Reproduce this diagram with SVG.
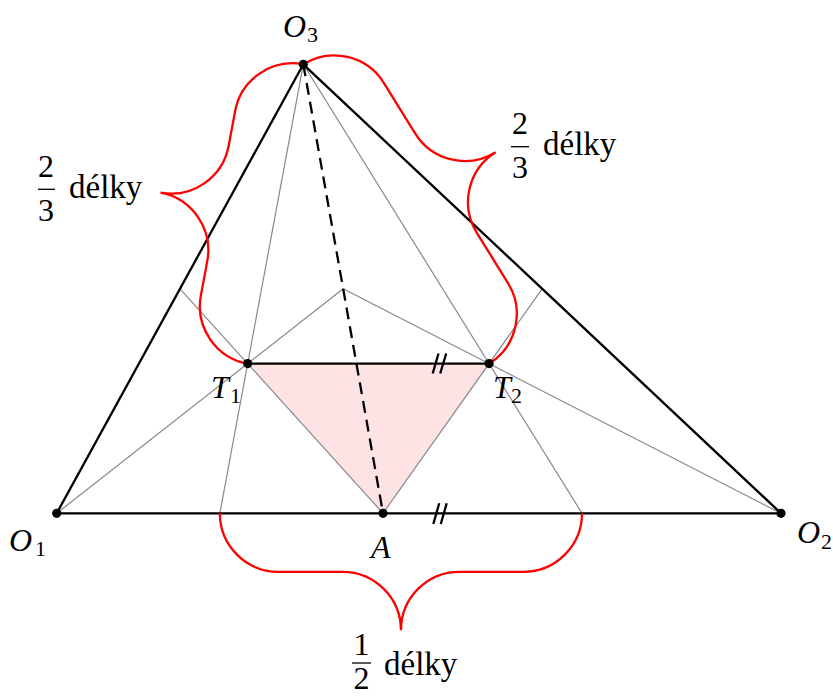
<svg xmlns="http://www.w3.org/2000/svg" width="833" height="697" viewBox="0 0 833 697">
<style>
.gray{stroke:#888;stroke-width:1.2;fill:none}
.blk{stroke:#000;stroke-width:2.3;fill:none}
.dash{stroke:#000;stroke-width:2.3;fill:none;stroke-dasharray:12 7}
.brace{stroke:#f00;stroke-width:2.3;fill:none}
.dot{fill:#000}
.lbl{font-family:"Liberation Serif","DejaVu Serif",serif;font-style:italic;font-size:32px;fill:#000}
.sub{font-family:"Liberation Serif","DejaVu Serif",serif;font-size:22px;fill:#000}
.num{font-family:"Liberation Serif","DejaVu Serif",serif;font-size:32px;fill:#000;text-anchor:middle}
.word{font-family:"Liberation Serif","DejaVu Serif",serif;font-size:33px;fill:#000}
</style>
<rect width="833" height="697" fill="#fff"/>
<polygon points="247.7,363.6 383,513.3 489.1,363.6" fill="#fde3e3"/>
<g id="connectors">
<g id="medians">
<line class="gray" x1="56.7" y1="513.3" x2="343.15" y2="288.8"/>
<line class="gray" x1="383" y1="513.3" x2="180" y2="288.8"/>
<line class="gray" x1="303.3" y1="64.3" x2="219.85" y2="513.3"/>
<line class="gray" x1="781" y1="513.3" x2="343.15" y2="288.8"/>
<line class="gray" x1="383" y1="513.3" x2="542.15" y2="288.8"/>
<line class="gray" x1="303.3" y1="64.3" x2="582" y2="513.3"/>
</g>
<line class="blk" x1="56.7" y1="513.3" x2="781" y2="513.3"/>
<line class="blk" x1="56.7" y1="513.3" x2="303.3" y2="64.3"/>
<line class="blk" x1="781" y1="513.3" x2="303.3" y2="64.3"/>
<line class="blk" x1="247.7" y1="363.6" x2="489.1" y2="363.6"/>
<line class="dash" x1="303.3" y1="64.3" x2="383" y2="513.3"/>
<g id="ticks">
<line class="blk" x1="432.7" y1="373.5" x2="438.5" y2="353.5"/>
<line class="blk" x1="440.2" y1="373.5" x2="446.2" y2="353.5"/>
<line class="blk" x1="433.3" y1="524" x2="439.2" y2="503.3"/>
<line class="blk" x1="440.8" y1="524" x2="446.7" y2="503.3"/>
</g>
</g>
<g id="braces">
<path class="brace" transform="translate(219.85,513.3)" d="M0,0 C0,32.3 26.2,58.5 58.5,58.5 L122.58,58.5 C154.88,58.5 181.08,84.7 181.08,117 C181.08,84.7 207.28,58.5 239.58,58.5 L303.65,58.5 C335.95,58.5 362.15,32.3 362.15,0"/>
<path class="brace" transform="translate(303.3,64.3) rotate(100.52)" d="M0,0 C0,32.3 26.2,58.5 58.5,58.5 L93.76,58.5 C126.06,58.5 152.26,84.7 152.26,117 C152.26,84.7 178.46,58.5 210.76,58.5 L246.02,58.5 C278.32,58.5 304.52,32.3 304.52,0"/>
<path class="brace" transform="translate(489.1,363.6) rotate(-121.81)" d="M0,0 C0,32.3 26.2,58.5 58.5,58.5 L117.66,58.5 C149.96,58.5 176.16,84.7 176.16,117 C176.16,84.7 202.36,58.5 234.66,58.5 L293.81,58.5 C326.11,58.5 352.31,32.3 352.31,0"/>
</g>
<g id="O1"><circle class="dot" cx="56.7" cy="513.3" r="4.6"/><text class="lbl" x="9" y="551">O</text><text class="sub" x="35" y="556">1</text></g>
<g id="O2"><circle class="dot" cx="781" cy="513.3" r="4.6"/><text class="lbl" x="797" y="543">O</text><text class="sub" x="821" y="549">2</text></g>
<g id="O3"><circle class="dot" cx="303.3" cy="64.3" r="4.6"/><text class="lbl" x="283" y="37">O</text><text class="sub" x="307" y="42">3</text></g>
<g id="T1"><circle class="dot" cx="247.7" cy="363.6" r="4.6"/><text class="lbl" x="211" y="398">T</text><text class="sub" x="230" y="403">1</text></g>
<g id="T2"><circle class="dot" cx="489.1" cy="363.6" r="4.6"/><text class="lbl" x="493" y="398">T</text><text class="sub" x="511" y="403">2</text></g>
<g id="A"><circle class="dot" cx="383" cy="513.3" r="4.6"/><text class="lbl" x="371" y="558">A</text></g>
<g id="label-left">
<text class="num" x="46" y="177">2</text>
<line x1="38" y1="189.3" x2="55" y2="189.3" stroke="#000" stroke-width="1.3"/>
<text class="num" x="46" y="221">3</text>
<text class="word" x="69" y="198">délky</text>
</g>
<g id="label-right">
<text class="num" x="520" y="133.5">2</text>
<line x1="511" y1="146.7" x2="529" y2="146.7" stroke="#000" stroke-width="1.3"/>
<text class="num" x="520" y="178">3</text>
<text class="word" x="543" y="155">délky</text>
</g>
<g id="label-bottom">
<text class="num" x="361.5" y="655">1</text>
<line x1="352" y1="663" x2="371" y2="663" stroke="#000" stroke-width="1.3"/>
<text class="num" x="361.5" y="689">2</text>
<text class="word" x="384" y="675">délky</text>
</g>
</svg>
